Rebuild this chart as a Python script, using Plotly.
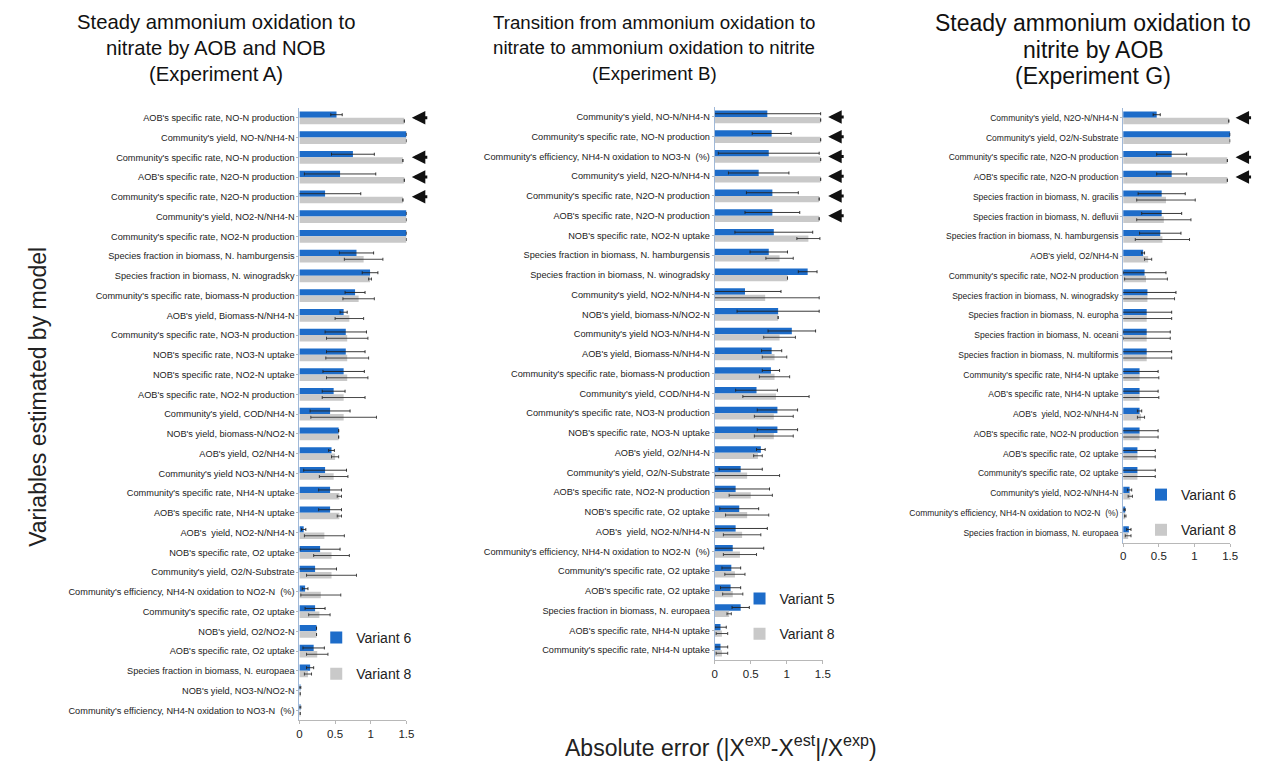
import plotly.graph_objects as go

W, H = 1262, 775

# ---------------- Experiment A ----------------
cats_a = [
    "AOB's specific rate, NO-N production",
    "Community's yield, NO-N/NH4-N",
    "Community's specific rate, NO-N production",
    "AOB's specific rate, N2O-N production",
    "Community's specific rate, N2O-N production",
    "Community's yield, NO2-N/NH4-N",
    "Community's specific rate, NO2-N production",
    "Species fraction in biomass, N. hamburgensis",
    "Species fraction in biomass, N. winogradsky",
    "Community's specific rate, biomass-N production",
    "AOB's yield, Biomass-N/NH4-N",
    "Community's specific rate, NO3-N production",
    "NOB's specific rate, NO3-N uptake",
    "NOB's specific rate, NO2-N uptake",
    "AOB's specific rate, NO2-N production",
    "Community's yield, COD/NH4-N",
    "NOB's yield, biomass-N/NO2-N",
    "AOB's yield, O2/NH4-N",
    "Community's yield NO3-N/NH4-N",
    "Community's specific rate, NH4-N uptake",
    "AOB's specific rate, NH4-N uptake",
    "AOB's  yield, NO2-N/NH4-N",
    "NOB's specific rate, O2 uptake",
    "Community's yield, O2/N-Substrate",
    "Community's efficiency, NH4-N oxidation to NO2-N  (%)",
    "Community's specific rate, O2 uptake",
    "NOB's yield, O2/NO2-N",
    "AOB's specific rate, O2 uptake",
    "Species fraction in biomass, N. europaea",
    "NOB's yield, NO3-N/NO2-N",
    "Community's efficiency, NH4-N oxidation to NO3-N  (%)",
]
a_v6 = [0.52, 1.50, 0.75, 0.57, 0.36, 1.50, 1.50, 0.80, 0.99, 0.78, 0.62, 0.65, 0.65, 0.62, 0.48, 0.43,
        0.55, 0.45, 0.36, 0.43, 0.43, 0.06, 0.29, 0.22, 0.08, 0.22, 0.24, 0.20, 0.15, 0.01, 0.01]
a_e6 = [0.08, 0, 0.30, 0.50, 0.50, 0, 0, 0.24, 0.11, 0.14, 0.05, 0.29, 0.27, 0.29, 0.16, 0.28,
        0, 0.04, 0.30, 0.16, 0.16, 0.03, 0.28, 0.30, 0.04, 0.14, 0, 0.15, 0.05, 0.01, 0.01]
a_v8 = [1.47, 1.50, 1.45, 1.47, 1.45, 1.50, 1.50, 0.90, 0.99, 0.83, 0.70, 0.67, 0.67, 0.67, 0.62, 0.62,
        0.55, 0.50, 0.48, 0.56, 0.56, 0.35, 0.45, 0.45, 0.30, 0.28, 0.24, 0.25, 0.12, 0.01, 0.01]
a_e8 = [0, 0, 0, 0, 0, 0, 0, 0.27, 0.02, 0.22, 0.20, 0.29, 0.30, 0.29, 0.30, 0.46,
        0, 0.05, 0.20, 0.03, 0.03, 0.28, 0.25, 0.35, 0.28, 0.15, 0, 0.15, 0.05, 0, 0]
a_flagged = [0, 2, 3, 4]

# ---------------- Experiment B ----------------
cats_b = [
    "Community's yield, NO-N/NH4-N",
    "Community's specific rate, NO-N production",
    "Community's efficiency, NH4-N oxidation to NO3-N  (%)",
    "Community's yield, N2O-N/NH4-N",
    "Community's specific rate, N2O-N production",
    "AOB's specific rate, N2O-N production",
    "NOB's specific rate, NO2-N uptake",
    "Species fraction in biomass, N. hamburgensis",
    "Species fraction in biomass, N. winogradsky",
    "Community's yield, NO2-N/NH4-N",
    "NOB's yield, biomass-N/NO2-N",
    "Community's yield NO3-N/NH4-N",
    "AOB's yield, Biomass-N/NH4-N",
    "Community's specific rate, biomass-N production",
    "Community's yield, COD/NH4-N",
    "Community's specific rate, NO3-N production",
    "NOB's specific rate, NO3-N uptake",
    "AOB's yield, O2/NH4-N",
    "Community's yield, O2/N-Substrate",
    "AOB's specific rate, NO2-N production",
    "NOB's specific rate, O2 uptake",
    "AOB's  yield, NO2-N/NH4-N",
    "Community's efficiency, NH4-N oxidation to NO2-N  (%)",
    "Community's specific rate, O2 uptake",
    "AOB's specific rate, O2 uptake",
    "Species fraction in biomass, N. europaea",
    "AOB's specific rate, NH4-N uptake",
    "Community's specific rate, NH4-N uptake",
]
b_v5 = [0.73, 0.79, 0.75, 0.61, 0.80, 0.80, 0.82, 0.75, 1.29, 0.42, 0.88, 1.07, 0.79, 0.78,
        0.58, 0.87, 0.87, 0.64, 0.36, 0.29, 0.34, 0.29, 0.25, 0.23, 0.22, 0.36, 0.08, 0.08]
b_e5 = [0.74, 0.27, 0.70, 0.42, 0.36, 0.38, 0.54, 0.26, 0.13, 0.50, 0.57, 0.33, 0.14, 0.12,
        0.29, 0.28, 0.28, 0.06, 0.30, 0.47, 0.27, 0.44, 0.43, 0.13, 0.14, 0.12, 0.08, 0.10]
b_v8 = [1.47, 1.47, 1.47, 1.47, 1.45, 1.45, 1.30, 0.90, 1.01, 0.70, 0.88, 0.90, 0.83, 0.83,
        0.85, 0.82, 0.82, 0.60, 0.45, 0.50, 0.45, 0.38, 0.35, 0.28, 0.25, 0.20, 0.10, 0.10]
b_e8 = [0, 0, 0, 0, 0, 0, 0.16, 0.19, 0, 0.75, 0, 0.22, 0.17, 0.21,
        0.46, 0.27, 0.27, 0.06, 0.45, 0.30, 0.30, 0.26, 0.23, 0.14, 0.14, 0.03, 0.08, 0.08]
b_flagged = [0, 1, 2, 3, 4, 5]

# ---------------- Experiment G ----------------
cats_c = [
    "Community's yield, N2O-N/NH4-N",
    "Community's yield, O2/N-Substrate",
    "Community's specific rate, N2O-N production",
    "AOB's specific rate, N2O-N production",
    "Species fraction in biomass, N. gracilis",
    "Species fraction in biomass, N. defluvii",
    "Species fraction in biomass, N. hamburgensis",
    "AOB's yield, O2/NH4-N",
    "Community's specific rate, NO2-N production",
    "Species fraction in biomass, N. winogradsky",
    "Species fraction in biomass, N. europha",
    "Species fraction in biomass, N. oceani",
    "Species fraction in biomass, N. multiformis",
    "Community's specific rate, NH4-N uptake",
    "AOB's specific rate, NH4-N uptake",
    "AOB's  yield, NO2-N/NH4-N",
    "AOB's specific rate, NO2-N production",
    "AOB's specific rate, O2 uptake",
    "Community's specific rate, O2 uptake",
    "Community's yield, NO2-N/NH4-N",
    "Community's efficiency, NH4-N oxidation to NO2-N  (%)",
    "Species fraction in biomass, N. europaea",
]
c_v6 = [0.47, 1.50, 0.68, 0.68, 0.54, 0.54, 0.52, 0.28, 0.30, 0.34, 0.33, 0.33, 0.33, 0.23,
        0.23, 0.23, 0.23, 0.20, 0.20, 0.09, 0.02, 0.08]
c_e6 = [0.05, 0, 0.21, 0.21, 0.33, 0.28, 0.29, 0.02, 0.30, 0.40, 0.35, 0.33, 0.35, 0.26,
        0.26, 0.03, 0.26, 0.25, 0.25, 0.03, 0.01, 0.03]
c_v8 = [1.48, 1.50, 1.46, 1.46, 0.60, 0.57, 0.55, 0.35, 0.32, 0.34, 0.33, 0.33, 0.33, 0.23,
        0.23, 0.25, 0.23, 0.20, 0.20, 0.10, 0.03, 0.07]
c_e8 = [0, 0, 0, 0, 0.41, 0.38, 0.38, 0.05, 0.30, 0.38, 0.35, 0.33, 0.35, 0.27,
        0.27, 0.05, 0.26, 0.25, 0.25, 0.03, 0.01, 0.04]
c_flagged = [0, 2, 3]

x_ticks = [0, 0.5, 1, 1.5]
x_ticktext = ["0", "0.5", "1", "1.5"]

BLUE = "#1d6cc9"
GRAY = "#c9c9c9"
FONT = "Liberation Sans, Arial, sans-serif"

# panel geometry in pixels
panels = [
    dict(cats=cats_a, v1=a_v6, e1=a_e6, v2=a_v8, e2=a_e8, n1="Variant 6", n2="Variant 8",
         flagged=a_flagged, x0=299, x1=407, top=108, lab=9.2,
         title=["Steady ammonium oxidation to", "nitrate by AOB and NOB", "(Experiment A)"],
         tx=215, ty=[22, 48, 74], tsize=20.3, leg=(316, 622), gap=15),
    dict(cats=cats_b, v1=b_v5, e1=b_e5, v2=b_v8, e2=b_e8, n1="Variant 5", n2="Variant 8",
         flagged=b_flagged, x0=718, x1=827, top=107, lab=9.2,
         title=["Transition from ammonium oxidation to",
                "nitrate to ammonium oxidation to nitrite", "(Experiment B)"],
         tx=657, ty=[22, 48, 74], tsize=18.7, leg=(743, 583), gap=14),
    dict(cats=cats_c, v1=c_v6, e1=c_e6, v2=c_v8, e2=c_e8, n1="Variant 6", n2="Variant 8",
         flagged=c_flagged, x0=1130, x1=1238, top=108, lab=8.5,
         title=["Steady ammonium oxidation to", "nitrite by AOB", "(Experiment G)"],
         tx=1100, ty=[23, 50, 76], tsize=23.0, leg=(1148, 479), gap=14),
]
ROW = 19.75

fig = go.Figure()
annotations = []
layout_axes = {}

for i, p in enumerate(panels):
    k = "" if i == 0 else str(i + 1)
    xa, ya = "x" + k, "y" + k
    leg = "legend" + k
    n = len(p["cats"])
    bottom = p["top"] + n * ROW

    fig.add_trace(go.Bar(
        y=p["cats"], x=p["v1"], orientation="h", name=p["n1"], xaxis=xa, yaxis=ya,
        marker=dict(color=BLUE, line=dict(width=0)), legend=leg, legendgroup=f"g{i}a",
        error_x=dict(type="data", array=p["e1"], symmetric=True, color="#222222",
                     thickness=0.9, width=1.5),
    ))
    fig.add_trace(go.Bar(
        y=p["cats"], x=p["v2"], orientation="h", name=p["n2"], xaxis=xa, yaxis=ya,
        marker=dict(color=GRAY, line=dict(width=0)), legend=leg, legendgroup=f"g{i}b",
        error_x=dict(type="data", array=p["e2"], symmetric=True, color="#333333",
                     thickness=0.9, width=1.5),
    ))

    layout_axes["xaxis" + k] = dict(
        domain=[p["x0"] / W, p["x1"] / W], range=[0, 1.5], anchor=ya,
        tickvals=x_ticks, ticktext=x_ticktext, showgrid=False, zeroline=False,
        showline=True, linecolor="#b8b8b8", linewidth=1, ticks="outside", ticklen=3,
        tickcolor="#b8b8b8", tickfont=dict(size=11.5, color="#222222", family=FONT),
    )
    layout_axes["yaxis" + k] = dict(
        domain=[1 - bottom / H, 1 - p["top"] / H], range=[n - 0.5, -0.5], anchor=xa,
        type="category", dtick=1, showgrid=False, zeroline=False, showline=True,
        linecolor="#9fb8d8", linewidth=1, ticks="outside", ticklen=2, tickcolor="#b8b8b8",
        tickfont=dict(size=p["lab"], color="#222222", family=FONT),
    )
    layout_axes[leg] = dict(
        x=p["leg"][0] / W, y=1 - p["leg"][1] / H, xanchor="left", yanchor="top",
        bgcolor="rgba(0,0,0,0)", font=dict(size=14, color="#222222", family=FONT),
        traceorder="grouped", tracegroupgap=p["gap"], itemwidth=30,
    )

    # panel title, one annotation per line
    for line, ty in zip(p["title"], p["ty"]):
        annotations.append(dict(
            text=line, xref="paper", yref="paper", x=p["tx"] / W, y=1 - ty / H,
            xanchor="center", yanchor="middle", showarrow=False,
            font=dict(size=p["tsize"], color="#111111", family=FONT),
        ))
    # arrows marking flagged variables
    for r in p["flagged"]:
        annotations.append(dict(
            text="", xref=xa + " domain", yref=ya, x=1.05, y=p["cats"][r],
            ax=17, ay=0, showarrow=True, arrowhead=2, arrowsize=0.9, arrowwidth=3,
            arrowcolor="#111111",
        ))

annotations.append(dict(
    text="Variables estimated by model", xref="paper", yref="paper",
    x=20 / W, y=1 - 397 / H, textangle=-90, showarrow=False,
    font=dict(size=23, color="#222222", family=FONT),
))
annotations.append(dict(
    text="Absolute error (|X<sup>exp</sup>-X<sup>est</sup>|/X<sup>exp</sup>)",
    xref="paper", yref="paper", x=724 / W, y=1 - 763 / H, showarrow=False,
    font=dict(size=23, color="#222222", family=FONT),
))

fig.update_layout(
    width=W, height=H, margin=dict(l=0, r=0, t=0, b=0),
    paper_bgcolor="white", plot_bgcolor="white",
    barmode="group", bargap=0.36, bargroupgap=0.0,
    showlegend=True, annotations=annotations, font=dict(family=FONT),
    **layout_axes,
)

fig.write_html("out.html")
